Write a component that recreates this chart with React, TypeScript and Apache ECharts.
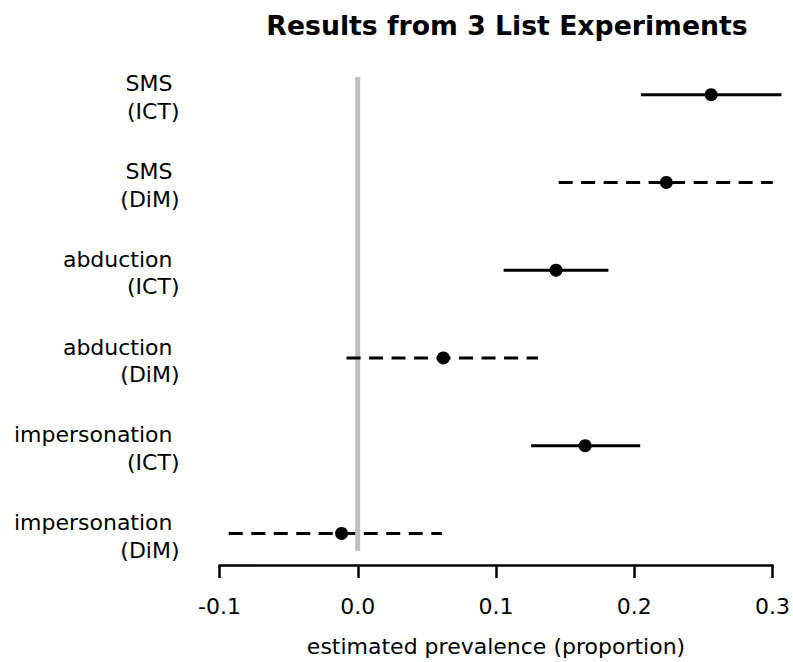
import React, { useEffect, useRef } from "react";
import * as echarts from "echarts";

// Data
const topics = ["SMS", "SMS", "abduction", "abduction", "impersonation", "impersonation"];
const methods = ["ICT", "DiM", "ICT", "DiM", "ICT", "DiM"];
const estimates = [0.2556, 0.2232, 0.1434, 0.0619, 0.1645, -0.0117];
const lowerCI = [0.2048, 0.1453, 0.1055, -0.0081, 0.1254, -0.0933];
const upperCI = [0.3065, 0.3002, 0.1813, 0.1304, 0.2043, 0.0608];
const xTicks = [-0.1, 0.0, 0.1, 0.2, 0.3];
const rowPositions = [1, 2, 3, 4, 5, 6];

const FONT = "'DejaVu Sans', Verdana, sans-serif";

export default function App() {
  const ref = useRef<HTMLDivElement>(null);

  useEffect(() => {
    document.body.style.margin = "0";
    if (!ref.current) return;
    const chart = echarts.init(ref.current, undefined, { renderer: "svg" });

    const buildData = (m: string) =>
      rowPositions
        .map((r, i) => ({ i, r }))
        .filter(({ i }) => methods[i] === m)
        .map(({ i, r }) => [r, lowerCI[i], upperCI[i], estimates[i]]);

    const renderItem = (dashed: boolean) => (params: any, api: any) => {
      const y = api.value(0);
      const lo = api.coord([api.value(1), y]);
      const hi = api.coord([api.value(2), y]);
      const pt = api.coord([api.value(3), y]);
      return {
        type: "group",
        children: [
          {
            type: "line",
            shape: { x1: lo[0], y1: lo[1], x2: hi[0], y2: hi[1] },
            style: {
              stroke: "#000",
              lineWidth: 3,
              lineDash: dashed ? [14, 8.5] : null,
            },
          },
          {
            type: "circle",
            shape: { cx: pt[0], cy: pt[1], r: 6.5 },
            style: { fill: "#000" },
          },
        ],
      };
    };

    chart.setOption({
      animation: false,
      backgroundColor: "#fff",
      title: {
        text: "Results from 3 List Experiments",
        left: 502,
        textAlign: "center",
        top: 7,
        textStyle: {
          fontFamily: FONT,
          fontWeight: "bold",
          fontSize: 26.7,
          color: "#000",
        },
      },
      grid: {
        left: 219.5,
        right: 18,
        top: 77.1,
        bottom: 109.4,
        containLabel: false,
      },
      xAxis: {
        type: "value",
        min: -0.1,
        max: 0.3,
        interval: 0.1,
        offset: 14,
        splitLine: { show: false },
        axisLine: { show: true, lineStyle: { color: "#000", width: 2.5 } },
        axisTick: { show: true, length: 13, lineStyle: { color: "#000", width: 2.5 } },
        axisLabel: {
          margin: 30,
          fontFamily: FONT,
          fontSize: 22,
          color: "#000",
          formatter: (v: number) => {
            const t = xTicks.find((x) => Math.abs(x - v) < 1e-9);
            return (t !== undefined ? t : v).toFixed(1);
          },
        },
        name: "estimated prevalence (proportion)",
        nameLocation: "middle",
        nameGap: 70,
        nameTextStyle: { fontFamily: FONT, fontSize: 22, color: "#000" },
      },
      yAxis: {
        type: "value",
        min: 0.8,
        max: 6.2,
        inverse: true,
        axisLine: { show: false },
        axisTick: { show: false },
        splitLine: { show: false },
        axisLabel: {
          show: true,
          customValues: rowPositions,
          margin: 40,
          align: "right",
          verticalAlign: "middle",
          fontFamily: FONT,
          fontSize: 22,
          color: "#000",
          lineHeight: 27.6,
          padding: [6, 0, 0, 0],
          formatter: (v: number) => {
            const i = Math.round(v) - 1;
            if (i < 0 || i >= topics.length) return "";
            return `{a|${topics[i]}}\n{b|(${methods[i]})}`;
          },
          rich: {
            a: { fontFamily: FONT, fontSize: 22, color: "#000", padding: [0, 7, 0, 0], lineHeight: 27.6 },
            b: { fontFamily: FONT, fontSize: 22, color: "#000", lineHeight: 27.6 },
          },
        },
      },
      series: [
        {
          type: "line",
          data: [
            [0, 0.8],
            [0, 6.2],
          ],
          symbol: "none",
          lineStyle: { color: "#bebebe", width: 5 },
          silent: true,
          z: 1,
        },
        {
          type: "custom",
          renderItem: renderItem(false),
          data: buildData("ICT"),
          clip: false,
          z: 3,
        },
        {
          type: "custom",
          renderItem: renderItem(true),
          data: buildData("DiM"),
          clip: false,
          z: 3,
        },
      ],
    });

    return () => chart.dispose();
  }, []);

  return <div ref={ref} style={{ width: 793, height: 662 }} />;
}
